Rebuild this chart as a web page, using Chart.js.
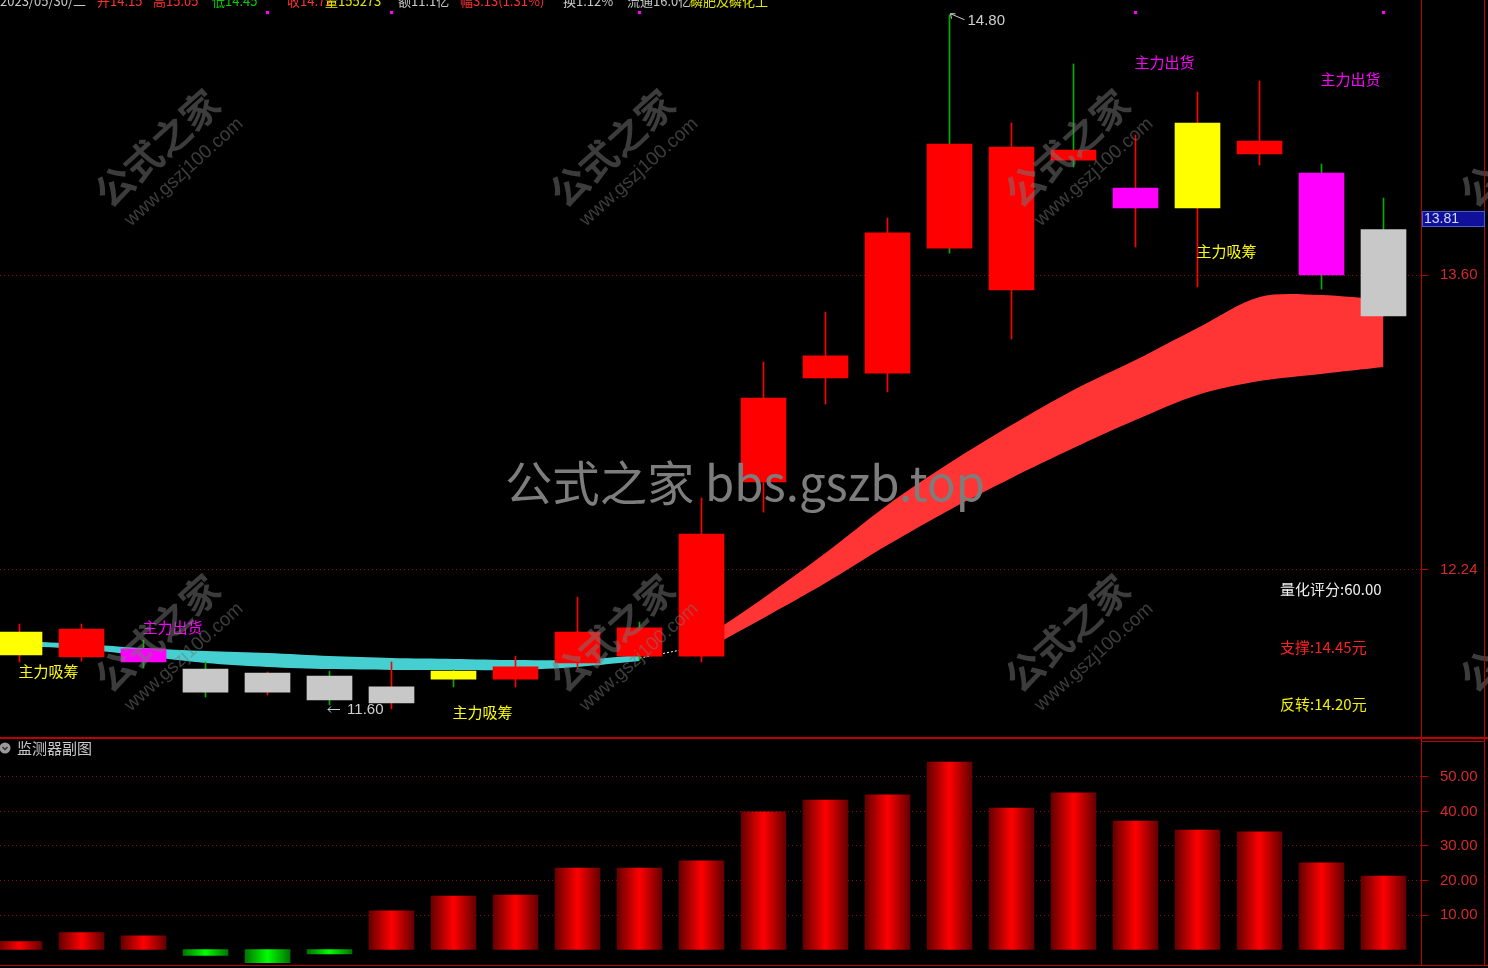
<!DOCTYPE html>
<html><head><meta charset="utf-8">
<script src="https://cdn.jsdelivr.net/npm/chart.js@4/dist/chart.umd.min.js"></script>
<style>
html,body{margin:0;padding:0;background:#000;overflow:hidden;}
#wrap{position:relative;width:1488px;height:968px;background:#000;}
#main{position:absolute;left:0;top:0;}
#sub{position:absolute;left:0;top:738px;}
</style></head><body>
<div id="wrap"><canvas id="main" width="1488" height="738"></canvas><canvas id="sub" width="1488" height="230"></canvas></div>
<script>
// ---------------- data ----------------
const days  = [0,1,2,3,4,5,6,7,8,9,10,11,12,13,14,15,16,17,18,19,20,21,22];
const open  = [11.848,11.839,11.876,11.783,11.677,11.751,11.627,11.774,11.737,11.811,11.973,11.843,12.646,13.125,13.148,14.204,13.531,14.176,13.909,13.909,14.158,14.070,13.810];
const close = [11.954,11.968,11.816,11.677,11.765,11.641,11.701,11.737,11.793,11.954,11.843,12.406,13.033,13.227,13.794,13.724,14.190,14.130,14.001,14.301,14.218,13.600,13.411];
const high  = [11.991,11.991,11.917,11.816,11.770,11.774,11.816,11.780,11.843,12.115,12.000,12.572,13.199,13.429,13.863,14.800,14.301,14.573,14.245,14.444,14.494,14.112,13.955];
const low   = [11.816,11.820,11.788,11.654,11.664,11.618,11.600,11.701,11.701,11.788,11.825,11.816,12.507,13.005,13.061,13.701,13.305,14.098,13.729,13.545,14.107,13.535,13.411];
const bodyType = ['absorb','strong','distribute','weak','weak','weak','weak','absorb','strong','strong','strong','strong','strong','strong','strong','strong','strong','strong','distribute','absorb','strong','distribute','weak'];
const bandUpper = [11.913,11.899,11.880,11.866,11.857,11.843,11.834,11.830,11.825,11.825,11.848,11.917,12.111,12.318,12.540,12.733,12.908,13.070,13.208,13.356,13.499,13.508,13.485];
const bandLower = [11.890,11.876,11.843,11.811,11.793,11.783,11.779,11.779,11.779,11.793,11.820,11.862,12.019,12.180,12.355,12.517,12.664,12.802,12.931,13.047,13.111,13.144,13.176];
const bandPhase = ['base','base','base','base','base','base','base','base','base','base','base','lift','lift','lift','lift','lift','lift','lift','lift','lift','lift','lift','lift'];
const monitor = [2.3,4.9,4.0,-1.7,-3.8,-1.3,11.2,15.5,15.8,23.6,23.6,25.7,39.9,43.3,44.8,54.3,41.0,45.4,37.2,34.6,34.1,25.1,21.3];
const priceTicks = [13.60, 12.24];
const monitorTicks = [10, 20, 30, 40, 50];
const absorbIdx = [0, 7, 19];
const absorbLevel = [11.774, 11.585, 13.711];
const distIdx = [2, 18, 21];
const distLevel = [11.977, 14.582, 14.504];
const markerIdx = [4, 6, 10, 18, 22];
const markerLevel = 14.81;
const highIdx = 15, highValue = 14.80;
const lowIdx = 6, lowValue = 11.60;
const lastPrice = 13.81;
const scoreValue = 60.00, supportValue = 14.45, reverseValue = 14.20;
const headerItems = [
  ['2023/05/30/二', 'date'], ['开14.15', 'up'], ['高15.05', 'up'], ['低14.45', 'down'], ['收14.72', 'up'],
  ['量155273', 'vol'], ['额11.1亿', 'plain'], ['幅3.13(1.31%)', 'up'], ['换1.12%', 'plain'], ['流通16.0亿', 'plain'], ['磷肥及磷化工', 'vol']
];

// ---------------- styling ----------------
const CJK = '"Noto Sans CJK SC", sans-serif';
const NUM = '"Liberation Sans", "DejaVu Sans", sans-serif';
const BORDER = '#c00000';
const GRID = '#8c0a0a';
const TICKTXT = '#d42a2a';
const bodyColor = {absorb:'#ffff00', distribute:'#ff00ff', weak:'#c8c8c8', strong:'#ff0000'};
const headerColor = {date:'#c8c8c8', up:'#ff3030', down:'#00d000', vol:'#e6e600', plain:'#c8c8c8'};
const X_MIN = -0.3145, X_MAX = 22.6048;

function fitFont(ctx, text, family, targetW, base, weight) {
  ctx.font = (weight||'') + ' ' + base + 'px ' + family;
  const w = ctx.measureText(text).width;
  ctx.font = (weight||'') + ' ' + (base * targetW / w).toFixed(2) + 'px ' + family;
}

const commonY = (min, max, ticks) => ({
  position: 'right', min: min, max: max,
  afterFit: s => { s.width = 67; s.paddingTop = 0; s.paddingBottom = 0; s.paddingLeft = 0; s.paddingRight = 0; },
  afterBuildTicks: s => { s.ticks = ticks.map(v => ({value: v})); },
  ticks: { color: TICKTXT, padding: 12, font: {family: NUM, size: 15}, callback: v => Number(v).toFixed(2) },
  grid: { color: GRID, lineWidth: 1, drawTicks: true, tickLength: 7, tickColor: BORDER, tickBorderDash: [] },
  border: { display: false, dash: [1, 3] }
});

// ---------------- main chart ----------------
const mainPlugin = {
  id: 'mainDecor',
  beforeDraw(chart) {
    const c = chart.ctx; c.save(); c.fillStyle = '#000'; c.fillRect(0, 0, chart.width, chart.height); c.restore();
  },
  afterDatasetsDraw(chart) {
    const c = chart.ctx, xs = chart.scales.x, ys = chart.scales.y, a = chart.chartArea;
    c.save();
    c.textBaseline = 'middle'; c.textAlign = 'left';
    c.font = '15px ' + CJK;
    c.fillStyle = '#ffff00';
    absorbIdx.forEach((d, k) => c.fillText('主力吸筹', xs.getPixelForValue(d) - 1, ys.getPixelForValue(absorbLevel[k])));
    c.fillStyle = '#ff00ff';
    distIdx.forEach((d, k) => c.fillText('主力出货', xs.getPixelForValue(d) - 1, ys.getPixelForValue(distLevel[k])));
    // high marker
    const hx = Math.round(xs.getPixelForValue(highIdx)) + 0.5, hy = ys.getPixelForValue(highValue);
    c.strokeStyle = '#d0d0d0'; c.lineWidth = 1;
    c.beginPath(); c.moveTo(hx, hy - 1); c.lineTo(hx + 14, hy + 5);
    c.moveTo(hx, hy - 1); c.lineTo(hx + 5, hy - 1); c.moveTo(hx, hy - 1); c.lineTo(hx + 1, hy + 4); c.stroke();
    c.fillStyle = '#d0d0d0'; c.font = '15px ' + NUM;
    c.fillText(highValue.toFixed(2), hx + 17, hy + 6);
    // low marker
    c.textAlign = 'right';
    c.fillText(lowValue.toFixed(2), xs.getPixelForValue(lowIdx) - 8, ys.getPixelForValue(lowValue) + 1);
    const lx = Math.round(xs.getPixelForValue(lowIdx)) - 63, ly = Math.round(ys.getPixelForValue(lowValue)) + 0.5;
    c.beginPath(); c.moveTo(lx, ly); c.lineTo(lx + 12, ly); c.moveTo(lx, ly); c.lineTo(lx + 3, ly - 3); c.moveTo(lx, ly); c.lineTo(lx + 3, ly + 3); c.stroke();
    // info texts
    c.textAlign = 'left'; c.font = '15px ' + CJK;
    const ix = a.right - 141;
    c.fillStyle = '#f0f0f0'; c.fillText('量化评分:' + scoreValue.toFixed(2), ix, 589);
    c.fillStyle = '#ff2020'; c.fillText('支撑:' + supportValue.toFixed(2) + '元', ix, 647);
    c.fillStyle = '#f0f000'; c.fillText('反转:' + reverseValue.toFixed(2) + '元', ix, 704);
    c.restore();
  },
  afterDraw(chart) {
    const c = chart.ctx, a = chart.chartArea, ys = chart.scales.y;
    c.save();
    // diagonal watermarks
    const groups = [[157,148],[612,148],[1067,148],[1522,148],[157,633],[612,633],[1067,633],[1522,633]];
    groups.forEach(([gx, gy]) => {
      c.save(); c.translate(gx, gy); c.rotate(-42 * Math.PI / 180);
      c.textAlign = 'center'; c.textBaseline = 'middle';
      c.fillStyle = 'rgba(120,120,120,0.5)';
      c.font = 'bold 38px ' + CJK; c.fillText('公式之家', 0, 0);
      c.font = '19px ' + NUM; c.fillText('www.gszj100.com', 4, 36);
      c.restore();
    });
    // big watermark
    c.fillStyle = '#7d7d7d'; c.textAlign = 'left'; c.textBaseline = 'middle';
    fitFont(c, '公式之家 bbs.gszb.top', CJK, 480, 44, '');
    c.fillText('公式之家 bbs.gszb.top', 505, 483);
    // header (cut at top)
    c.textBaseline = 'alphabetic'; c.font = '13px ' + CJK;
    const hxPos = [0, 97, 153, 212, 287, 325, 398, 460, 563, 627, 690];
    headerItems.forEach(([t, k], i) => { c.fillStyle = headerColor[k]; c.fillText(t, hxPos[i], 6); });
    // borders
    c.strokeStyle = BORDER; c.lineWidth = 1;
    c.beginPath();
    c.moveTo(a.right + 0.5, 0); c.lineTo(a.right + 0.5, chart.height);
    c.moveTo(1484.5, 0); c.lineTo(1484.5, chart.height);
    c.moveTo(0, chart.height - 0.5); c.lineTo(chart.width, chart.height - 0.5);
    c.stroke();
    // last price box
    const py = ys.getPixelForValue(lastPrice);
    const bt = Math.round(py) - 18;
    c.fillStyle = '#10109a'; c.fillRect(a.right + 1, bt, 63, 16);
    c.strokeStyle = '#4a5ad0'; c.strokeRect(a.right + 1.5, bt + 0.5, 62, 15);
    c.fillStyle = '#d0dcff'; c.font = '14px ' + NUM; c.textBaseline = 'middle';
    c.fillText(lastPrice.toFixed(2), a.right + 3, bt + 8);
    c.restore();
  }
};

const bodyData = days.map(d => ({x: d, y: [open[d], close[d]]}));
const wickData = days.map(d => ({x: d, y: [low[d], high[d]]}));
const bandPts = (phase, arr) => days.filter(d => bandPhase[d] === phase).map(d => ({x: d, y: arr[d]}));
const lastBase = days.filter(d => bandPhase[d] === 'base').pop();
const firstLift = days.find(d => bandPhase[d] === 'lift');
const mid = d => (bandUpper[d] + bandLower[d]) / 2;

new Chart(document.getElementById('main'), {
  type: 'bar',
  data: {
    datasets: [
      { type: 'bar', label: 'body', data: bodyData, order: 0, grouped: false, barThickness: 45,
        backgroundColor: days.map(d => bodyColor[bodyType[d]]), borderWidth: 0, borderSkipped: false },
      { type: 'bar', label: 'wick', data: wickData, order: 1, grouped: false, barThickness: 1,
        backgroundColor: days.map(d => close[d] >= open[d] ? '#ff0000' : '#00b000'), borderWidth: 0, borderSkipped: false },
      { type: 'line', label: 'baseUp', data: bandPts('base', bandUpper), order: 5, fill: '+1',
        backgroundColor: '#46cfd0', borderColor: 'transparent', borderWidth: 1, pointRadius: 0, tension: 0.3 },
      { type: 'line', label: 'baseLo', data: bandPts('base', bandLower), order: 5, fill: false,
        borderColor: 'transparent', borderWidth: 1, pointRadius: 0, tension: 0.3 },
      { type: 'line', label: 'liftUp', data: bandPts('lift', bandUpper), order: 5, fill: '+1',
        backgroundColor: '#ff3434', borderColor: 'transparent', borderWidth: 1, pointRadius: 0, tension: 0.3 },
      { type: 'line', label: 'liftLo', data: bandPts('lift', bandLower), order: 5, fill: false,
        borderColor: 'transparent', borderWidth: 1, pointRadius: 0, tension: 0.3 },
      { type: 'line', label: 'link', data: [{x: lastBase, y: mid(lastBase)}, {x: firstLift, y: mid(firstLift)}], order: 4,
        borderColor: '#ffffff', borderWidth: 1, borderDash: [2, 2], pointRadius: 0, fill: false },
      { type: 'line', label: 'marks', data: markerIdx.map(d => ({x: d, y: markerLevel})), order: 0, showLine: false,
        pointStyle: 'rect', pointRadius: 2.2, backgroundColor: '#ff00ff', borderColor: '#ff00ff', borderWidth: 0 }
    ]
  },
  options: {
    responsive: false, animation: false, devicePixelRatio: 1,
    layout: { autoPadding: false, padding: { top: 0, bottom: 1, left: 0, right: 0 } },
    plugins: { legend: { display: false }, tooltip: { enabled: false } },
    events: [],
    scales: {
      x: { type: 'linear', min: X_MIN, max: X_MAX, display: false, offset: false },
      y: commonY(11.470, 14.868, priceTicks)
    }
  },
  plugins: [mainPlugin]
});

// ---------------- sub chart ----------------
const subPlugin = {
  id: 'subDecor',
  beforeDraw(chart) {
    const c = chart.ctx; c.save(); c.fillStyle = '#000'; c.fillRect(0, 0, chart.width, chart.height); c.restore();
  },
  afterDraw(chart) {
    const c = chart.ctx, a = chart.chartArea;
    c.save();
    c.strokeStyle = BORDER; c.lineWidth = 1;
    c.beginPath();
    c.moveTo(0, 0.5); c.lineTo(chart.width, 0.5);
    c.moveTo(0, a.bottom + 0.5); c.lineTo(chart.width, a.bottom + 0.5);
    c.moveTo(a.right + 0.5, 0); c.lineTo(a.right + 0.5, a.bottom);
    c.moveTo(1484.5, 0); c.lineTo(1484.5, a.bottom);
    c.moveTo(a.right, 3.5); c.lineTo(1484, 3.5);
    c.stroke();
    // title
    c.fillStyle = '#9a9a9a'; c.beginPath(); c.arc(5, 10, 5.5, 0, Math.PI * 2); c.fill();
    c.strokeStyle = '#303030'; c.lineWidth = 1.5; c.beginPath(); c.moveTo(2.5, 9); c.lineTo(5, 11.5); c.lineTo(7.5, 9); c.stroke();
    c.fillStyle = '#c8c8c8'; c.font = '15px ' + CJK; c.textBaseline = 'middle'; c.textAlign = 'left';
    c.fillText('监测器副图', 17, 10);
    c.restore();
  }
};

function barGradient(c) {
  const chart = c.chart;
  if (!chart.chartArea || c.type !== 'data' || !c.raw) return '#c00000';
  const cx = chart.scales.x.getPixelForValue(c.raw.x);
  const g = chart.ctx.createLinearGradient(cx - 23, 0, cx + 23, 0);
  if (c.raw.y >= 0) {
    g.addColorStop(0, '#600000'); g.addColorStop(0.5, '#ff0000'); g.addColorStop(1, '#600000');
  } else {
    g.addColorStop(0, '#007000'); g.addColorStop(0.5, '#00ff00'); g.addColorStop(1, '#007000');
  }
  return g;
}

new Chart(document.getElementById('sub'), {
  type: 'bar',
  data: {
    datasets: [
      { label: 'monitor', data: days.map(d => ({x: d, y: monitor[d]})), grouped: false, barThickness: 45,
        backgroundColor: barGradient, borderWidth: 0, base: 0 }
    ]
  },
  options: {
    responsive: false, animation: false, devicePixelRatio: 1,
    layout: { autoPadding: false, padding: { top: 2, bottom: 3, left: 0, right: 0 } },
    plugins: { legend: { display: false }, tooltip: { enabled: false } },
    events: [],
    scales: {
      x: { type: 'linear', min: X_MIN, max: X_MAX, display: false, offset: false },
      y: commonY(-4.49, 60.72, monitorTicks)
    }
  },
  plugins: [subPlugin]
});
</script>
</body></html>
